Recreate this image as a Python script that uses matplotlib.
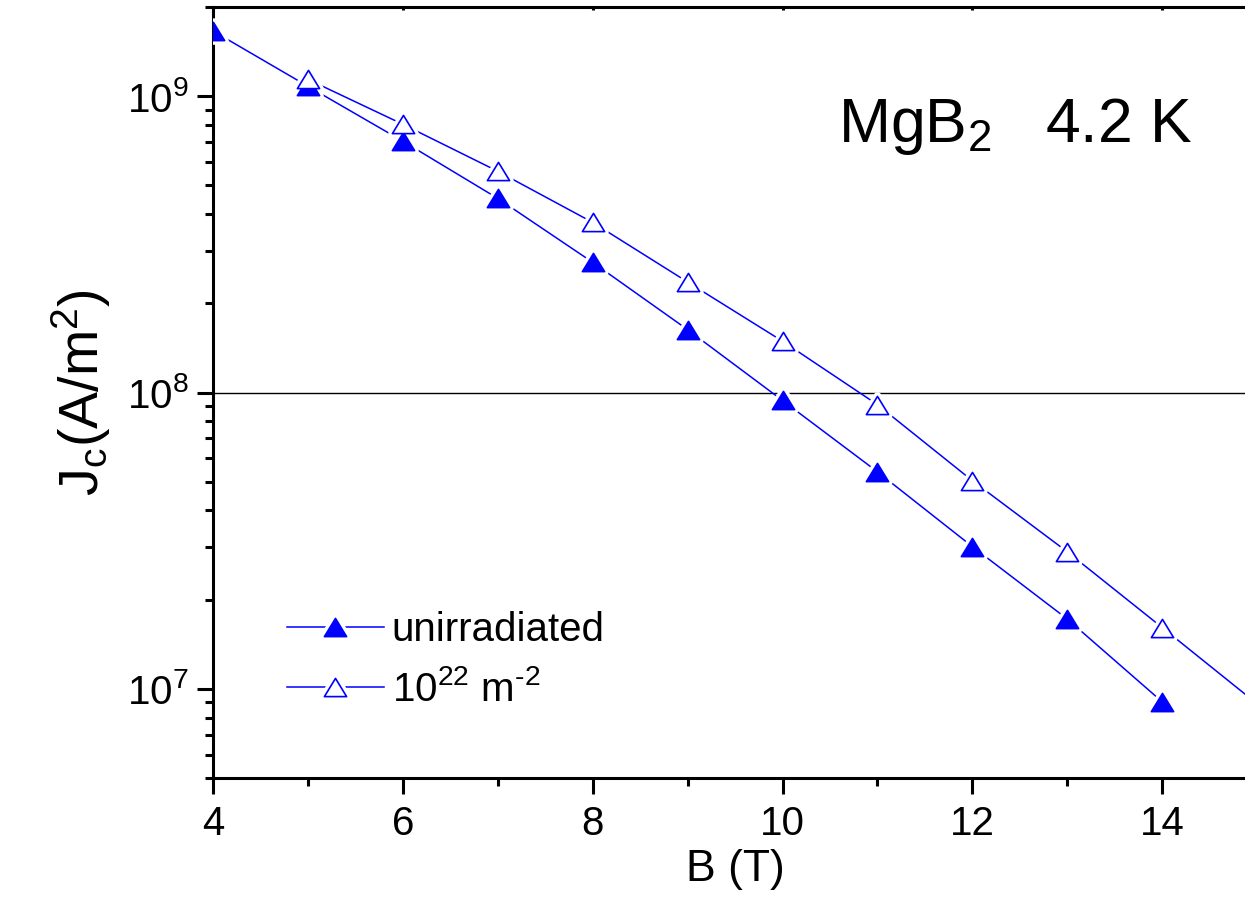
import numpy as np
import matplotlib
matplotlib.use("Agg")
from matplotlib import pyplot as plt
from matplotlib.path import Path
from matplotlib.ticker import LogLocator, FixedLocator, NullFormatter, FuncFormatter
from matplotlib.legend_handler import HandlerTuple

plt.rcParams['font.family'] = ['Liberation Sans', 'DejaVu Sans']
plt.rcParams['mathtext.fontset'] = 'custom'
plt.rcParams['mathtext.rm'] = 'Liberation Sans'
plt.rcParams['mathtext.it'] = 'Liberation Sans:italic'
plt.rcParams['mathtext.bf'] = 'Liberation Sans:bold'

# data
B_unirr = [4, 5, 6, 7, 8, 9, 10, 11, 12, 13, 14]
Jc_unirr = [1.66e9, 1.08e9, 7.05e8, 4.52e8, 2.75e8, 1.63e8, 9.4e7, 5.4e7, 3.02e7, 1.72e7, 9.04e6]

B_irr = [5, 6, 7, 8, 9, 10, 11, 12, 13, 14, 15]
Jc_irr = [1.14e9, 8.04e8, 5.58e8, 3.75e8, 2.36e8, 1.49e8, 9.1e7, 5.04e7, 2.9e7, 1.61e7, 8.9e6]

labels = ["unirradiated", "10$^{22}$ m$^{\u20102}$"]
ref_level = 1e8

blue = (0, 0, 1)
tri = Path([(0, 0.82), (-1, -0.82), (1, -0.82), (0, 0.82)],
           [Path.MOVETO, Path.LINETO, Path.LINETO, Path.CLOSEPOLY])

fig = plt.figure(figsize=(12.45, 8.99), dpi=100)
ax = fig.add_axes([0.1711, 0.1346, 0.8386, 0.8576])

ax.axhline(ref_level, color='black', lw=1.0, zorder=1)

handles = []
for x, y, face in [(B_unirr, Jc_unirr, blue), (B_irr, Jc_irr, 'white')]:
    ln, = ax.plot(x, y, color=blue, lw=1.1, zorder=2)
    wm, = ax.plot(x, y, ls='none', marker=tri, ms=16, mfc='white', mec='white', mew=6, zorder=3)
    mk, = ax.plot(x, y, ls='none', marker=tri, ms=16, mfc=face, mec=blue, mew=1.2, zorder=4)
    handles.append((ln, wm, mk))

ax.set_yscale('log')
ax.set_xlim(4, 15)
ax.set_ylim(5e6, 2e9)

ax.xaxis.set_major_locator(FixedLocator([4, 6, 8, 10, 12, 14]))
ax.xaxis.set_minor_locator(FixedLocator([5, 7, 9, 11, 13, 15]))
ax.yaxis.set_major_locator(LogLocator(base=10, numticks=10))
ax.yaxis.set_minor_locator(LogLocator(base=10, subs=np.arange(2, 10), numticks=20))
ax.yaxis.set_minor_formatter(NullFormatter())
ax.yaxis.set_major_formatter(FuncFormatter(lambda v, p: r"10$^{%d}$" % round(np.log10(v))))

for s in ax.spines.values():
    s.set_linewidth(2.2)
ax.tick_params(which='both', direction='out', width=2.2, right=True, labelsize=29)
ax.tick_params(which='major', length=11.5)
ax.tick_params(which='minor', length=6)
ax.tick_params(axis='x', pad=8)
ax.tick_params(axis='y', pad=6)
# short inward marks on the top spine
ax.secondary_xaxis('top').tick_params(which='both', direction='in', length=2.5,
                                      width=2.2, labeltop=False)
ax.xaxis.set_ticks_position('bottom')

ax.set_xlabel("B (T)", fontsize=32, labelpad=4)
ax.set_ylabel(r"J$_\mathregular{c}$(A/m$^\mathregular{2}$)", fontsize=40, labelpad=10)

ax.text(0.599, 0.825, r"MgB$_2$   4.2 K", transform=ax.transAxes, fontsize=45,
        va='baseline', ha='left')

ax.legend(handles, labels, loc='lower left', bbox_to_anchor=(0.071, 0.09),
          frameon=False, fontsize=29, handlelength=2.4, handletextpad=0.2,
          labelspacing=0.5, borderpad=0, borderaxespad=0,
          handler_map={tuple: HandlerTuple(ndivide=1)})

fig.savefig("out.png", dpi=100)
